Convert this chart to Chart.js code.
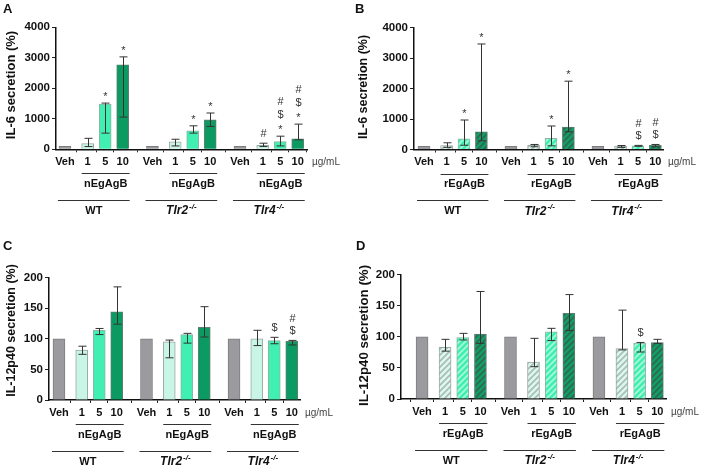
<!DOCTYPE html>
<html><head><meta charset="utf-8">
<script src="https://cdn.jsdelivr.net/npm/chart.js@4.4.1/dist/chart.umd.min.js"></script>
<style>
body{margin:0;background:#fff;width:702px;height:468px;position:relative;overflow:hidden;font-family:"Liberation Sans",Arial,sans-serif}
.p{position:absolute;width:351px;height:234px}
canvas{display:block}
</style></head><body>
<div class="p" style="left:0;top:0"><canvas id="cA" width="351" height="234"></canvas></div>
<div class="p" style="left:351px;top:0"><canvas id="cB" width="351" height="234"></canvas></div>
<div class="p" style="left:0;top:234px"><canvas id="cC" width="351" height="234"></canvas></div>
<div class="p" style="left:351px;top:234px"><canvas id="cD" width="351" height="234"></canvas></div>
<script>
// ---- data ----
const barLabels = ['Veh','1','5','10','Veh','1','5','10','Veh','1','5','10'];
const genotypes = ['WT','Tlr2','Tlr4'];

const il6Native    = [100,190,1485,2770, 100,245,604,967, 100,130,250,340];
const il6NativeHi  = [null,360,1515,3030, null,330,770,1190, null,200,430,825];
const il6NativeLo  = [null,90,530,1055, null,110,530,750, null,90,110,310];
const il6NativeSig = ['','','*','*', '','','*','*', '','#','*$#','*$#'];

const il6Rec    = [100,130,350,580, 100,140,370,735, 100,110,120,140];
const il6RecHi  = [null,220,967,3460, null,165,770,2240, null,130,135,165];
const il6RecLo  = [null,70,140,285, null,90,120,580, null,70,105,90];
const il6RecSig = ['','','*','*', '','','*','*', '','','$#','$#'];

const il12Native    = [100,81.7,114,144, 100,95,107,119, 100,100,97,96];
const il12NativeHi  = [null,88,117,185, null,98,109,152.6, null,114,102.5,97.5];
const il12NativeLo  = [null,74.7,107,124, null,69,93,103, null,89,92,90];
const il12NativeSig = ['','','','', '','','','', '','','$','$#'];

const il12Rec    = [100,83,99,104.5, 100,59.5,108,138, 100,81,90,90.6];
const il12RecHi  = [null,96,105.6,173, null,97.6,113.7,168, null,143,91,96];
const il12RecLo  = [null,77,95,89.5, null,52,94,110, null,79,75.6,89.5];
const il12RecSig = ['','','','', '','','','', '','','$',''];

// ---- layout helpers ----
const doseOffset = [0,1.3,2.3,3.3];
const barX = barLabels.map((_,i)=>Math.floor(i/4)*5 + doseOffset[i%4]);

const solidCols = ['#9b9b9f','#c9f5e6','#40efb1','#0c9a63'];
const borderCols = ['#7d7d80','#9aa8a2','#8fb3a4','#5f7f70'];
function hatch(base, stripe){
  const c=document.createElement('canvas'); c.width=c.height=6;
  const g=c.getContext('2d');
  g.fillStyle=base; g.fillRect(0,0,6,6);
  g.strokeStyle=stripe; g.lineWidth=1.7;
  g.beginPath();
  g.moveTo(-1,7); g.lineTo(7,-1);
  g.moveTo(-4,4); g.lineTo(4,-4);
  g.moveTo(2,10); g.lineTo(10,2);
  g.stroke();
  return g.createPattern(c,'repeat');
}
const hatchCols = ['#9b9b9f', hatch('#dcf8ee','#a9bdb5'), hatch('#3fefb0','#a8f8da'), hatch('#139d68','#2d6a50')];

const deco = {
  id:'deco',
  afterDatasetsDraw(chart, args, o){
    const {ctx} = chart; const x=chart.scales.x, y=chart.scales.y;
    ctx.save();
    ctx.strokeStyle='#333'; ctx.lineWidth=1;
    ctx.fillStyle='#333'; ctx.font='11px "Liberation Sans", Arial, sans-serif';
    ctx.textAlign='center'; ctx.textBaseline='middle';
    o.vals.forEach((v,i)=>{
      const px = Math.round(x.getPixelForValue(barX[i]))+0.5;
      let top = y.getPixelForValue(v);
      if(o.hi[i]!=null){
        const yh=y.getPixelForValue(o.hi[i]), yl=y.getPixelForValue(o.lo[i]);
        ctx.beginPath();
        ctx.moveTo(px,yl); ctx.lineTo(px,yh);
        ctx.moveTo(px-4,yh); ctx.lineTo(px+4,yh);
        ctx.moveTo(px-4,yl); ctx.lineTo(px+4,yl);
        ctx.stroke();
        top=Math.min(top,yh);
      }
      const s=o.sig[i];
      for(let k=0;k<s.length;k++){
        const ch=s[k]; let cy=top-9-12.5*k; if(ch==='*') cy+=3;
        ctx.fillText(ch, px, cy);
      }
    });
    ctx.restore();
  },
  afterDraw(chart, args, o){
    const {ctx} = chart; const x=chart.scales.x, y=chart.scales.y;
    const base = y.getPixelForValue(0);
    ctx.save();
    ctx.fillStyle='#111'; ctx.font='bold 13px "Liberation Sans", Arial, sans-serif';
    ctx.textAlign='left'; ctx.textBaseline='top';
    ctx.fillText(o.letter, o.letterX, o.letterY);
    ctx.save();
    ctx.translate(o.titleX, o.titleY); ctx.rotate(-Math.PI/2);
    ctx.font='bold '+o.titleSize+'px "Liberation Sans", Arial, sans-serif';
    ctx.textAlign='center'; ctx.textBaseline='middle';
    ctx.fillText(o.title,0,0);
    ctx.restore();
    ctx.font='10px "Liberation Sans", Arial, sans-serif'; ctx.fillStyle='#444';
    ctx.textAlign='left'; ctx.textBaseline='middle';
    ctx.fillText('\u00b5g/mL', chart.chartArea.right+5, base+13);
    ctx.strokeStyle='#333'; ctx.lineWidth=1.2; ctx.fillStyle='#111';
    for(let g=0; g<3; g++){
      const xv=x.getPixelForValue(barX[g*4]), x1=x.getPixelForValue(barX[g*4+1]), x10=x.getPixelForValue(barX[g*4+3]);
      const r1 = Math.round(base+24)+0.5, r2=Math.round(base+50.7)+0.5;
      ctx.beginPath(); ctx.moveTo(x1-6,r1); ctx.lineTo(x10+7,r1);
      ctx.moveTo(xv-7,r2); ctx.lineTo(x10+7,r2); ctx.stroke();
      ctx.font='bold 11px "Liberation Sans", Arial, sans-serif';
      ctx.textAlign='center'; ctx.textBaseline='middle';
      ctx.fillText(o.agent, (x1-6+x10+7)/2, base+34.7);
      const cx=(xv-7+x10+7)/2, cy=base+61.7;
      if(g===0){
        ctx.fillText(genotypes[g], cx, cy);
      } else {
        ctx.font='italic bold 12px "Liberation Sans", Arial, sans-serif';
        const w1=ctx.measureText(genotypes[g]).width;
        ctx.font='italic bold 8px "Liberation Sans", Arial, sans-serif';
        const w2=ctx.measureText('-/-').width;
        const sx=cx-(w1+w2+1)/2;
        ctx.textAlign='left';
        ctx.font='italic bold 12px "Liberation Sans", Arial, sans-serif';
        ctx.fillText(genotypes[g], sx, cy);
        ctx.font='italic bold 8px "Liberation Sans", Arial, sans-serif';
        ctx.fillText('-/-', sx+w1+1, cy-4);
      }
    }
    ctx.restore();
  }
};

function makePanel(id, p){
  const colors = p.hatched ? hatchCols : solidCols;
  new Chart(document.getElementById(id), {
    type:'bar',
    data:{datasets:[{
      data: p.vals.map((v,i)=>({x:barX[i], y:v})),
      backgroundColor: p.vals.map((_,i)=>colors[i%4]),
      borderColor: p.vals.map((_,i)=>borderCols[i%4]),
      borderWidth:1, barThickness:12
    }]},
    options:{
      responsive:false, animation:false, events:[],
      layout:{padding:{top:p.top, right:p.padRight, left:0, bottom:0}},
      plugins:{legend:{display:false}, tooltip:{enabled:false}, deco:p},
      scales:{
        x:{type:'linear', min:p.xMin, max:p.xMax, offset:false,
          afterBuildTicks(s){ s.ticks = barX.map(v=>({value:v})); },
          afterFit(s){ s.height = 234 - p.zero; },
          ticks:{autoSkip:false, maxRotation:0, padding:3, color:'#111',
            font:{family:'"Liberation Sans", Arial, sans-serif', size:11, weight:'bold'},
            callback:(v,i)=>barLabels[i]},
          grid:{drawOnChartArea:false, drawTicks:true, tickLength:3, color:'#222'},
          border:{display:true, color:'#111', width:1.5}
        },
        y:{min:0, max:p.yMax,
          afterFit(s){ s.width = p.left; },
          ticks:{stepSize:p.yStep, padding:2, color:'#111',
            font:{family:'"Liberation Sans", Arial, sans-serif', size:11.5, weight:'bold'},
            callback:(v)=>String(v)},
          grid:{drawOnChartArea:false, drawTicks:true, tickLength:4, color:'#222'},
          border:{display:true, color:'#111', width:1.5}
        }
      }
    },
    plugins:[deco]
  });
}

makePanel('cA',{vals:il6Native,hi:il6NativeHi,lo:il6NativeLo,sig:il6NativeSig,hatched:false,
  yMax:4000,yStep:1000,left:56,top:27.3,padRight:44,zero:149.3,xMin:-0.51,xMax:13.83,
  agent:'nEgAgB',title:'IL-6 secretion (%)',titleSize:13,titleX:11.7,titleY:85,letter:'A',letterX:3,letterY:3});
makePanel('cB',{vals:il6Rec,hi:il6RecHi,lo:il6RecLo,sig:il6RecSig,hatched:true,
  yMax:4000,yStep:1000,left:63,top:27.5,padRight:39,zero:149.5,xMin:-0.575,xMax:13.74,
  agent:'rEgAgB',title:'IL-6 secretion (%)',titleSize:12.5,titleX:13,titleY:87,letter:'B',letterX:4,letterY:3});
makePanel('cC',{vals:il12Native,hi:il12NativeHi,lo:il12NativeLo,sig:il12NativeSig,hatched:false,
  yMax:200,yStep:50,left:49,top:43.7,padRight:51,zero:166,xMin:-0.57,xMax:13.77,
  agent:'nEgAgB',title:'IL-12p40 secretion (%)',titleSize:12.5,titleX:12,titleY:96.5,letter:'C',letterX:3,letterY:6});
makePanel('cD',{vals:il12Rec,hi:il12RecHi,lo:il12RecLo,sig:il12RecSig,hatched:true,
  yMax:200,yStep:50,left:50,top:40.7,padRight:36,zero:165,xMin:-1.19,xMax:13.79,
  agent:'rEgAgB',title:'IL-12p40 secretion (%)',titleSize:13.3,titleX:13,titleY:101.5,letter:'D',letterX:5,letterY:6});
</script>
</body></html>
